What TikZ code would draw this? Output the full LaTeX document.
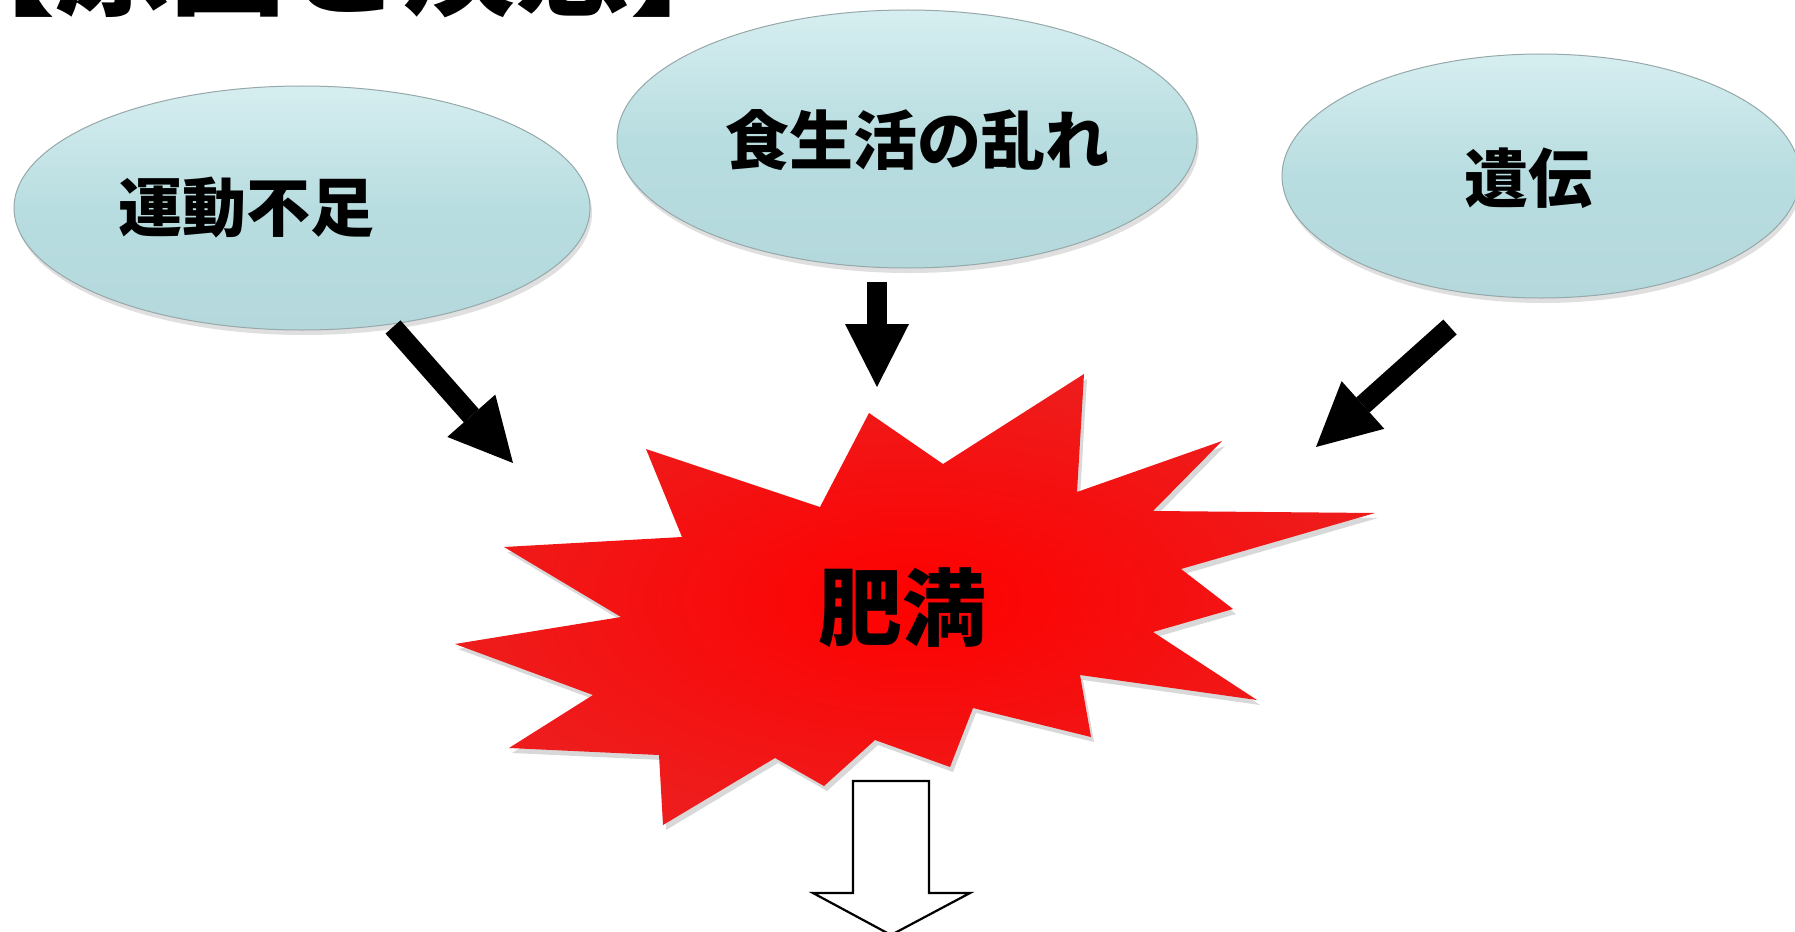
\documentclass[tikz,border=0pt]{standalone}
\usepackage{fontspec}
\newfontfamily\jp{Noto Sans CJK JP}
\usetikzlibrary{shapes.geometric,arrows.meta,shadows}
\definecolor{ellfill}{RGB}{184,221,224}
\definecolor{elltop}{RGB}{214,238,240}
\definecolor{ellbot}{RGB}{180,216,219}
\definecolor{ellline}{RGB}{150,168,170}
\definecolor{starin}{RGB}{255,0,0}
\definecolor{starout}{RGB}{238,28,28}
\tikzset{
  causebox/.style={ellipse, draw=ellline, line width=1pt, top color=elltop, bottom color=ellbot, middle color=ellfill,
    drop shadow={shadow xshift=2pt, shadow yshift=-5pt, opacity=0.25}, inner sep=0pt},
  txt/.style={font=\jp\bfseries\fontsize{64}{70}\selectfont, inner sep=0pt, text=black},
  fatarrow/.style={line width=20pt, draw=black, -{Triangle[length=63pt,width=64pt,line width=0pt]}},
  hollowarrow/.style={draw=black, line width=2.2pt, fill=white, line join=miter},
}
\begin{document}
\begin{tikzpicture}[x=1pt,y=-1pt]
\useasboundingbox (0,0) rectangle (1795,931);
\fill[white] (0,0) rectangle (1795,931);
\clip (0,0) rectangle (1795,931);
% title (cut off at top)
\node[anchor=base west, inner sep=0pt, font=\jp\bfseries\fontsize{115}{120}\selectfont] (title) at (-60,7) {【原因と疾患】};
% cause ellipses
\node[causebox, minimum width=576pt, minimum height=244pt] (e1) at (302,208) {};
\node[causebox, minimum width=580pt, minimum height=258pt] (e2) at (907,139) {};
\node[causebox, minimum width=518pt, minimum height=244pt] (e3) at (1541,176) {};
\node[txt] (t1) at (246,208) {運動不足};
\node[txt] (t2) at (917,140) {食生活の乱れ};
\node[txt] (t3) at (1528,178) {遺伝};
% explosion star
\path[inner color=starin, outer color=starout, drop shadow={shadow xshift=3pt, shadow yshift=-5pt, opacity=0.3}]
  (1084,374) -- (943,464) -- (869,413) -- (820,507) -- (646,449) -- (682,537) -- (504,547) -- (621,617)
  -- (455,644) -- (593,695) -- (509,748) -- (659,755) -- (663,825) -- (775,758) -- (824,786) -- (875,740)
  -- (950,767) -- (973,708) -- (1091,737) -- (1080,675) -- (1257,700) -- (1153,632) -- (1233,609)
  -- (1181,569) -- (1375,513) -- (1153,511) -- (1222,441) -- (1077,492) -- cycle;
\node[txt, font=\jp\bfseries\fontsize{84}{90}\selectfont] (obesity) at (902,608) {肥満};
% arrows
\coordinate (a1s) at (393,327); \coordinate (a1t) at (513,463);
\coordinate (a2s) at (877,282); \coordinate (a2t) at (877,387);
\coordinate (a3s) at (1450,327); \coordinate (a3t) at (1316,447);
\draw[fatarrow] (a1s) -- (a1t);
\draw[fatarrow] (a2s) -- (a2t);
\draw[fatarrow] (a3s) -- (a3t);
% hollow block arrow
\draw[hollowarrow] (853,781) -- (929,781) -- (929,893) -- (970,893) -- (891,935) -- (813,893) -- (853,893) -- cycle;
\end{tikzpicture}
\end{document}
